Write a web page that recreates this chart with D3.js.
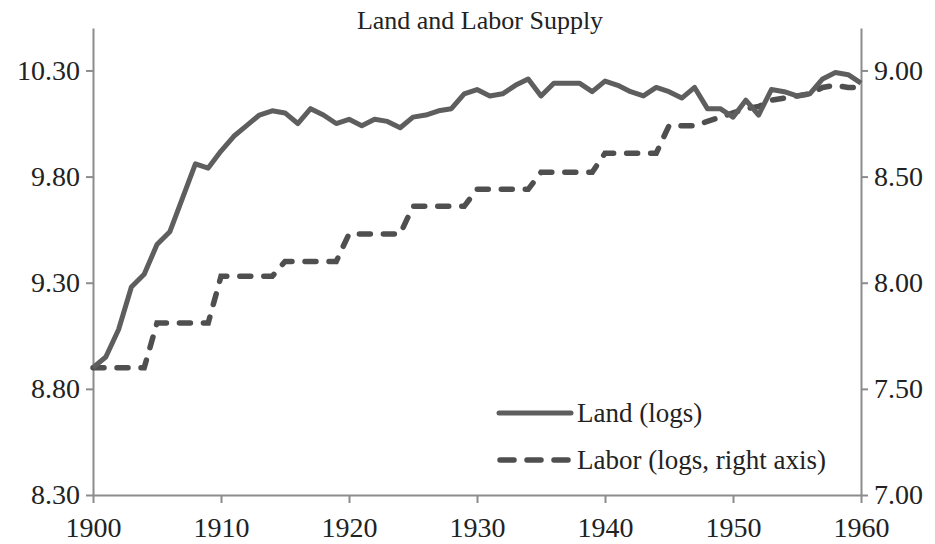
<!DOCTYPE html>
<meta charset="utf-8">
<style>
  html, body { margin: 0; padding: 0; background: #fff; }
  svg { display: block; }
  text { font-family: "Liberation Serif", "Times New Roman", serif; fill: #222; }
  .axis path, .axis line { stroke: #8c8c8c; stroke-width: 2; }
</style>
<div id="chart"></div>
<script src="https://cdnjs.cloudflare.com/ajax/libs/d3/7.8.5/d3.min.js"></script>
<script>
// years 1900..1960
var years = d3.range(1900, 1961);

// land, logs (left axis)
var land = [
  8.90, 8.95, 9.08, 9.28, 9.34, 9.48, 9.54, 9.70, 9.86, 9.84,
  9.92, 9.99, 10.04, 10.09, 10.11, 10.10, 10.05, 10.12, 10.09, 10.05,
  10.07, 10.04, 10.07, 10.06, 10.03, 10.08, 10.09, 10.11, 10.12, 10.19,
  10.21, 10.18, 10.19, 10.23, 10.26, 10.18, 10.24, 10.24, 10.24, 10.20,
  10.25, 10.23, 10.20, 10.18, 10.22, 10.20, 10.17, 10.22, 10.12, 10.12,
  10.08, 10.16, 10.09, 10.21, 10.20, 10.18, 10.19, 10.26, 10.29, 10.28,
  10.24
];

// labor, logs (right axis)
var labor = [
  7.60, 7.60, 7.60, 7.60, 7.60, 7.81, 7.81, 7.81, 7.81, 7.81,
  8.03, 8.03, 8.03, 8.03, 8.03, 8.10, 8.10, 8.10, 8.10, 8.10,
  8.23, 8.23, 8.23, 8.23, 8.23, 8.36, 8.36, 8.36, 8.36, 8.36,
  8.44, 8.44, 8.44, 8.44, 8.44, 8.52, 8.52, 8.52, 8.52, 8.52,
  8.61, 8.61, 8.61, 8.61, 8.61, 8.74, 8.74, 8.74, 8.76, 8.78,
  8.80, 8.82, 8.83, 8.86, 8.87, 8.88, 8.89, 8.92, 8.93, 8.92,
  8.92
];

var xTicks = [1900, 1910, 1920, 1930, 1940, 1950, 1960];
var leftTicks = [8.3, 8.8, 9.3, 9.8, 10.3];
var rightTicks = [7.0, 7.5, 8.0, 8.5, 9.0];

var width = 935, height = 544;
var margin = {top: 28, right: 74, bottom: 49, left: 93};

var svg = d3.select("#chart").append("svg")
  .attr("width", width)
  .attr("height", height);

var x = d3.scaleLinear().domain([1900, 1960]).range([margin.left, width - margin.right]);
var yL = d3.scaleLinear().domain([8.3, 10.5]).range([height - margin.bottom, margin.top]);
var yR = d3.scaleLinear().domain([7.0, 9.2]).range([height - margin.bottom, margin.top]);

// axes
svg.append("g")
  .attr("class", "axis")
  .attr("transform", "translate(0," + (height - margin.bottom) + ")")
  .call(d3.axisBottom(x).tickValues(xTicks).tickFormat(d3.format("d")).tickSize(8).tickSizeOuter(0).tickPadding(14))
  .call(g => g.selectAll("text").style("font-size", "28px").attr("fill", "#222"));

svg.append("g")
  .attr("class", "axis")
  .attr("transform", "translate(" + margin.left + ",0)")
  .call(d3.axisLeft(yL).tickValues(leftTicks).tickFormat(d3.format(".2f")).tickSize(7).tickSizeOuter(0).tickPadding(6))
  .call(g => g.selectAll("text").style("font-size", "28px").attr("fill", "#222"));

svg.append("g")
  .attr("class", "axis")
  .attr("transform", "translate(" + (width - margin.right) + ",0)")
  .call(d3.axisRight(yR).tickValues(rightTicks).tickFormat(d3.format(".2f")).tickSize(7).tickSizeOuter(0).tickPadding(6))
  .call(g => g.selectAll("text").style("font-size", "28px").attr("fill", "#222"));

// series
var landLine = d3.line().x((d, i) => x(years[i])).y(d => yL(d));
var laborLine = d3.line().x((d, i) => x(years[i])).y(d => yR(d));

svg.append("path")
  .datum(labor)
  .attr("d", laborLine)
  .attr("fill", "none")
  .attr("stroke", "#4f4f4f")
  .attr("stroke-width", 5.5)
  .attr("stroke-linecap", "round")
  .attr("stroke-dasharray", "11,13");

svg.append("path")
  .datum(land)
  .attr("d", landLine)
  .attr("fill", "none")
  .attr("stroke", "#5e5e5e")
  .attr("stroke-width", 5)
  .attr("stroke-linejoin", "round");

// title
svg.append("text")
  .attr("x", 480)
  .attr("y", 29)
  .attr("text-anchor", "middle")
  .style("font-size", "26px")
  .text("Land and Labor Supply");

// legend
var legend = svg.append("g").attr("transform", "translate(497,0)");
legend.append("line")
  .attr("x1", 2).attr("x2", 74).attr("y1", 413).attr("y2", 413)
  .attr("stroke", "#5e5e5e").attr("stroke-width", 5).attr("stroke-linecap", "round");
legend.append("text").attr("x", 80).attr("y", 422).style("font-size", "27px").text("Land (logs)");
legend.append("line")
  .attr("x1", 3).attr("x2", 72).attr("y1", 460).attr("y2", 460)
  .attr("stroke", "#4f4f4f").attr("stroke-width", 5.5).attr("stroke-linecap", "round")
  .attr("stroke-dasharray", "14,13");
legend.append("text").attr("x", 80).attr("y", 469).style("font-size", "27px").text("Labor (logs, right axis)");
</script>
